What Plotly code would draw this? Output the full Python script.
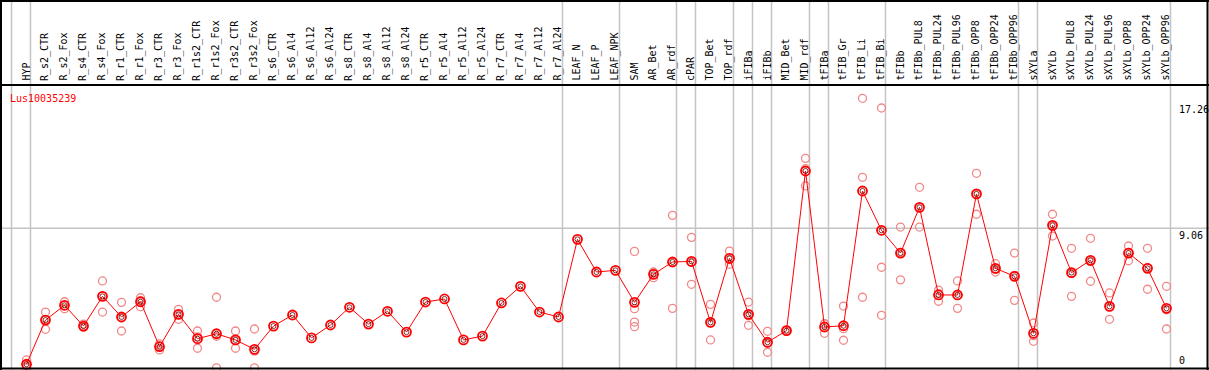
import plotly.graph_objects as go

W, H = 1209, 370

categories = ["HYP", "R_s2_CTR", "R_s2_Fox", "R_s4_CTR", "R_s4_Fox", "R_r1_CTR", "R_r1_Fox",
              "R_r3_CTR", "R_r3_Fox", "R_r1s2_CTR", "R_r1s2_Fox", "R_r3s2_CTR", "R_r3s2_Fox",
              "R_s6_CTR", "R_s6_Al4", "R_s6_Al12", "R_s6_Al24", "R_s8_CTR", "R_s8_Al4", "R_s8_Al12",
              "R_s8_Al24", "R_r5_CTR", "R_r5_Al4", "R_r5_Al12", "R_r5_Al24", "R_r7_CTR", "R_r7_Al4",
              "R_r7_Al12", "R_r7_Al24", "LEAF_N", "LEAF_P", "LEAF_NPK", "SAM", "AR_Bet", "AR_rdf",
              "cPAR", "TOP_Bet", "TOP_rdf", "iFIBa", "iFIBb", "MID_Bet", "MID_rdf", "tFIBa",
              "tFIB_Gr", "tFIB_Li", "tFIB_Bi", "tFIBb", "tFIBb_PUL8", "tFIBb_PUL24", "tFIBb_PUL96",
              "tFIBb_OPP8", "tFIBb_OPP24", "tFIBb_OPP96", "sXYLa", "sXYLb", "sXYLb_PUL8",
              "sXYLb_PUL24", "sXYLb_PUL96", "sXYLb_OPP8", "sXYLb_OPP24", "sXYLb_OPP96"]

means = [0.23, 3.10, 4.06, 2.71, 4.64, 3.30, 4.29, 1.37, 3.47, 1.89, 2.21, 1.81, 1.20,
         2.71, 3.43, 1.94, 2.78, 3.93, 2.84, 3.67, 2.32, 4.27, 4.47, 1.81, 2.06, 4.21, 5.29,
         3.62, 3.30, 8.34, 6.22, 6.33, 4.25, 6.07, 6.87, 6.91, 2.95, 7.11, 3.47, 1.66, 2.41,
         12.78, 2.65, 2.73, 11.48, 8.93, 7.45, 10.42, 4.73, 4.73, 11.29, 6.46, 5.94, 2.24,
         9.25, 6.18, 6.98, 3.99, 7.45, 6.46, 3.86]

rep_a = [0.51, 3.62, 4.29, 2.84, 5.64, 4.25, 4.55, 1.55, 3.80, 2.39, 4.58, 2.39, 2.52,
         None, None, None, None, None, None, None, None, None, None, None, None, None, None,
         None, None, None, None, None, 7.56, 6.22, 9.90, 8.47, 4.12, 7.58, 4.27, 2.37, 2.45,
         13.60, 2.86, 4.01, 17.50, 16.87, 9.14, 11.72, 5.05, 5.64, 12.63, 6.76, 7.45, 2.91,
         9.97, 7.76, 8.41, 4.86, 7.91, 7.76, 5.29]
rep_b = [0.15, 2.50, 3.84, 2.63, 3.62, 2.39, 3.97, 1.16, 3.15, 1.27, 0.0, 1.27, 0.0,
         None, None, None, None, None, None, None, None, None, None, None, None, None, None,
         None, None, None, None, None, 3.84, 5.85, 3.86, 5.42, 1.81, 6.72, 2.76, 1.01, 2.38,
         11.81, 2.24, 2.54, 12.37, 6.53, 5.71, 9.14, 4.32, 3.86, 9.97, 6.22, 4.38, 1.72,
         8.56, 4.64, 5.62, 3.15, 6.95, 5.10, 2.52]
rep_c = [0.0, 3.15, 4.05, 2.70, 4.66, 3.26, 4.35, 1.40, 3.46, 2.01, 2.05, 1.77, 1.08,
         None, None, None, None, None, None, None, None, None, None, None, None, None, None,
         None, None, None, None, None, 2.97, 6.14, 6.85, 6.84, 2.92, 7.03, 3.38, 1.60, 2.40,
         12.93, 2.85, 1.79, 4.58, 3.41, 7.50, 10.40, 4.82, 4.69, 11.27, 6.40, 6.00, 2.09,
         9.20, 6.14, 6.90, 3.97, 7.50, 6.50, 3.77]
rep_d = [None] * 32 + [2.67] + [None] * 28

group_breaks = ["HYP", "R_r7_Al24", "LEAF_NPK", "AR_rdf", "cPAR", "TOP_rdf", "iFIBa", "iFIBb",
                "MID_rdf", "tFIBa", "tFIB_Bi", "tFIBb_OPP96", "sXYLa", "sXYLb_OPP96"]

gene = "Lus10035239"
tick_vals = [17.26, 9.06, 0]
tick_text = ["17.26", "9.06", "0"]

FONT = "DejaVu Sans Mono"
idx = list(range(len(categories)))

# replicate points
rx, ry = [], []
for arr in (rep_a, rep_b, rep_c, rep_d):
    for i, v in enumerate(arr):
        if v is not None:
            rx.append(i)
            ry.append(v)

fig = go.Figure()
fig.add_trace(go.Scatter(x=rx, y=ry, mode="markers", hoverinfo="skip",
                         marker=dict(symbol="circle-open", size=8, color="#f08888",
                                     line=dict(width=1.3, color="#f08888"))))
fig.add_trace(go.Scatter(x=idx, y=means, mode="lines+markers",
                         line=dict(color="#ff0000", width=1),
                         marker=dict(symbol="circle-open", size=9, color="#ff0000",
                                     line=dict(width=1.8, color="#ff0000"))))
fig.add_trace(go.Scatter(x=idx, y=means, mode="markers", hoverinfo="skip",
                         marker=dict(symbol="circle-open", size=5, color="#600000",
                                     line=dict(width=0.8, color="#600000"))))

x_px0, x_step = 26.5, 19.0
xmin = -x_px0 / x_step
xmax = xmin + W / x_step
y0_px, y_scale = 367.8, 15.40
top_px = 85
ymin = -(H - y0_px) / y_scale
ymax = (y0_px - top_px) / y_scale
dom_top = (H - top_px) / H

shapes = []
GRID = "#c4c4c4"
# horizontal gridline
shapes.append(dict(type="line", xref="paper", yref="y", x0=0, x1=1, y0=9.06, y1=9.06,
                   line=dict(color=GRID, width=1.5), layer="below"))
# vertical group separators
breaks = [-1] + [categories.index(c) for c in group_breaks]
for b in breaks:
    xv = b + 0.21
    shapes.append(dict(type="line", xref="x", yref="paper", x0=xv, x1=xv, y0=0, y1=1,
                       line=dict(color=GRID, width=1.5), layer="below"))
# frame and header line
def px(x):
    return x / W
def py(y):
    return 1 - y / H
for (a, b, c, d) in [(0, 1, W, 1), (1, 0, 1, H), (W - 1.5, 0, W - 1.5, H),
                     (0, H - 1.5, W, H - 1.5), (0, top_px, W, top_px)]:
    shapes.append(dict(type="line", xref="paper", yref="paper", x0=px(a), y0=py(b),
                       x1=px(c), y1=py(d), line=dict(color="black", width=2)))

annotations = []
for i, c in enumerate(categories):
    annotations.append(dict(x=i - 0.05, y=py(top_px - 2), xref="x", yref="paper", text=c,
                            showarrow=False, textangle=-90, xanchor="center", yanchor="bottom",
                            font=dict(family=FONT, size=10, color="black")))
annotations.append(dict(x=px(8), y=py(91), xref="paper", yref="paper", text=gene,
                        showarrow=False, xanchor="left", yanchor="top",
                        font=dict(family=FONT, size=10, color="#ff0000")))
for v, t in zip(tick_vals, tick_text):
    annotations.append(dict(x=px(1177), y=v, xref="paper", yref="y", text=t, showarrow=False,
                            xanchor="left", yanchor="bottom" if v == 0 else "top",
                            font=dict(family=FONT, size=10, color="black")))

fig.update_layout(
    width=W, height=H, margin=dict(l=0, r=0, t=0, b=0),
    paper_bgcolor="white", plot_bgcolor="white", showlegend=False,
    xaxis=dict(range=[xmin, xmax], visible=False, fixedrange=True),
    yaxis=dict(range=[ymin, ymax], domain=[0, dom_top], visible=False, fixedrange=True),
    shapes=shapes, annotations=annotations,
)
fig.write_html("out.html", config={"displayModeBar": False},
               post_script="document.body.style.margin='0';document.body.style.overflow='hidden';")
